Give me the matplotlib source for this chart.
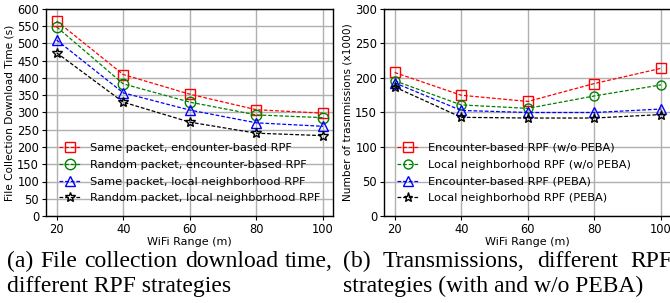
import matplotlib
matplotlib.use("Agg")
import matplotlib.pyplot as plt

wifi_range = [20, 40, 60, 80, 100]

# (a) File collection download time (s)
time_same_enc = [565, 410, 353, 308, 298]
time_rand_enc = [548, 383, 330, 293, 285]
time_same_loc = [510, 357, 307, 270, 260]
time_rand_loc = [473, 330, 272, 240, 233]
labels_a = ["Same packet, encounter-based RPF",
            "Random packet, encounter-based RPF",
            "Same packet, local neighborhood RPF",
            "Random packet, local neighborhood RPF"]

# (b) Number of transmissions (x1000)
tx_enc_nopeba = [208, 175, 166, 192, 214]
tx_loc_nopeba = [196, 161, 156, 174, 190]
tx_enc_peba = [193, 153, 150, 150, 155]
tx_loc_peba = [187, 143, 142, 142, 147]
labels_b = ["Encounter-based RPF (w/o PEBA)",
            "Local neighborhood RPF (w/o PEBA)",
            "Encounter-based RPF (PEBA)",
            "Local neighborhood RPF (PEBA)"]

caption_a = ["(a) File collection download time,", "different RPF strategies"]
caption_b = ["(b) Transmissions, different RPF", "strategies (with and w/o PEBA)"]

colors = ["red", "green", "blue", "black"]
markers = ["s", "o", "^", "*"]

W, H = 670, 303
fig = plt.figure(figsize=(W / 100, H / 100), dpi=100)

def px_axes(x0, y0, x1, y1):
    return fig.add_axes([x0 / W, 1 - y1 / H, (x1 - x0) / W, (y1 - y0) / H])

ax1 = px_axes(46, 9, 333, 216)
ax2 = px_axes(384, 9, 671, 216)

def draw(ax, series, labels, ms, ylim, yticks, ylabel):
    for s, lab, c, m in zip(series, labels, colors, markers):
        ax.plot(wifi_range, s, linestyle="--", color=c, marker=m, markersize=ms,
                markerfacecolor="none", markeredgecolor=c, markeredgewidth=1.0,
                linewidth=0.9, label=lab, dashes=(3, 1.5))
    ax.set_xlim(16.8, 103)
    ax.set_ylim(*ylim)
    ax.set_yticks(yticks)
    ax.set_xticks(wifi_range)
    ax.grid(True, color="#b0b0b0", linewidth=1.0)
    ax.set_axisbelow(True)
    ax.tick_params(labelsize=8.3, length=3, pad=2)
    ax.set_xlabel("WiFi Range (m)", fontsize=8.0, labelpad=0.5)
    ax.set_ylabel(ylabel, fontsize=7.6, labelpad=2)
    for sp in ax.spines.values():
        sp.set_linewidth(1.0)
    ax.legend(loc="lower left", frameon=False, fontsize=8.2, handlelength=2.0,
              labelspacing=0.6, borderaxespad=0.7, handletextpad=0.8)

draw(ax1, [time_same_enc, time_rand_enc, time_same_loc, time_rand_loc], labels_a,
     7.5, (0, 600), range(0, 601, 50), "File Collection Download Time (s)")
draw(ax2, [tx_enc_nopeba, tx_loc_nopeba, tx_enc_peba, tx_loc_peba], labels_b,
     6.5, (0, 300), range(0, 301, 50), "Number of trasnmissions (x1000)")

cap = dict(fontsize=17, family="Liberation Serif", va="baseline", ha="left")
renderer = fig.canvas.get_renderer()

def justified(line, x0, x1, base):
    words = line.split()
    texts = [fig.text(0, 1 - base / H, w, **cap) for w in words]
    widths = [t.get_window_extent(renderer).width for t in texts]
    gap = (x1 - x0 - sum(widths)) / (len(words) - 1)
    x = x0
    for t, w in zip(texts, widths):
        t.set_x(x / W)
        x += w + gap

justified(caption_a[0], 7, 333, 267)
fig.text(7 / W, 1 - 292 / H, caption_a[1], **cap)
justified(caption_b[0], 343, 672, 267)
fig.text(343 / W, 1 - 292 / H, caption_b[1], **cap)

fig.savefig("out.png", dpi=100)
